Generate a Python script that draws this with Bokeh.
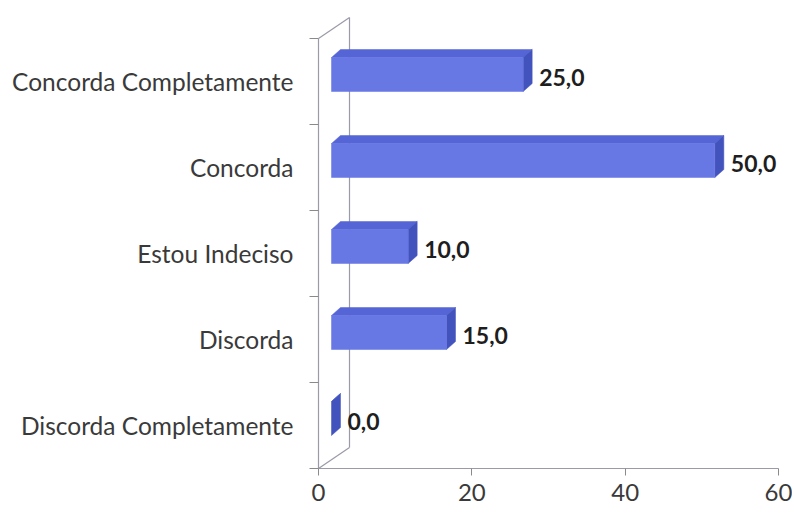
from bokeh.plotting import figure
from bokeh.models import Range1d, FixedTicker, ColumnDataSource
from bokeh.core.properties import value
from bokeh.embed import file_html
from bokeh.resources import INLINE

categories = ["Discorda Completamente", "Discorda", "Estou Indeciso", "Concorda", "Concorda Completamente"]
values = [0.0, 15.0, 10.0, 50.0, 25.0]
value_labels = ["0,0", "15,0", "10,0", "50,0", "25,0"]
x_ticks = [0, 20, 40, 60]

FONT = "Lato"
PXX = 460 / 60.0   # pixels per x unit
PXY = 86.0         # pixels per category

# geometry (style constants, in data units)
x0 = 13 / PXX          # front-left offset of bars from axis
ddx = 9 / PXX          # bar depth (x)
ddy = 8 / PXY          # bar depth (y)
top_off = 24 / PXY
bot_off = 10 / PXY
wall_dx = 31 / PXX
wall_dy = 21 / PXY

W, H = 792, 520
p = figure(width=W, height=H, output_backend="svg", toolbar_location=None,
           x_range=Range1d(-4 / PXX, 60 + 4 / PXX),
           y_range=Range1d(-3 / PXY, 5 + 26 / PXY),
           min_border_left=314, min_border_right=W - 782, min_border_top=12,
           min_border_bottom=H - 471)
p.outline_line_color = None
p.grid.visible = False
p.background_fill_color = "white"

# axes
p.xaxis.ticker = FixedTicker(ticks=x_ticks)
p.xaxis.axis_line_color = None
p.xaxis.major_tick_in = 3
p.xaxis.major_tick_out = 4
p.xaxis.major_tick_line_color = "#8a8a8a"
p.xaxis.minor_tick_line_color = None
p.xaxis.major_label_text_font = FONT
p.xaxis.major_label_text_font_size = "24px"
p.xaxis.major_label_text_color = "#3a3a3a"
p.xaxis.major_label_standoff = 8

centers = [i + 0.5 for i in range(len(categories))]
p.yaxis.ticker = FixedTicker(ticks=centers, minor_ticks=list(range(len(categories) + 1)))
p.yaxis.major_label_overrides = {c: lab for c, lab in zip(centers, categories)}
p.yaxis.axis_line_color = None
p.yaxis.major_tick_line_color = None
p.yaxis.major_tick_in = 0
p.yaxis.major_tick_out = 0
p.yaxis.minor_tick_line_color = "#8a8a8a"
p.yaxis.minor_tick_in = 4
p.yaxis.minor_tick_out = 5
p.yaxis.major_label_text_font = FONT
p.yaxis.major_label_text_font_size = "24.5px"
p.yaxis.major_label_text_color = "#3a3a3a"
p.yaxis.major_label_standoff = 16

# frame lines (front axes, back wall and floor edges)
n = len(categories)
line_col = "#9a9aa8"
p.segment(x0=[0, 0, wall_dx, 0, 0], y0=[0, 0, wall_dy, 0, n],
          x1=[60, 0, wall_dx, wall_dx, wall_dx], y1=[0, n, n + wall_dy, wall_dy, n + wall_dy],
          line_color=line_col, line_width=1.2)

# 3D bars
fx, fy, tx, ty, sx, sy = [], [], [], [], [], []
for v, c in zip(values, centers):
    xl, xr = x0, x0 + v
    yt, yb = c + top_off, c - bot_off
    fx.append([xl, xr, xr, xl]); fy.append([yb, yb, yt, yt])
    tx.append([xl, xr, xr + ddx, xl + ddx]); ty.append([yt, yt, yt + ddy, yt + ddy])
    sx.append([xr, xr + ddx, xr + ddx, xr]); sy.append([yb, yb + ddy, yt + ddy, yt])

p.patches(tx, ty, fill_color="#5565d6", line_color="#5565d6", line_width=0.5)
p.patches(sx, sy, fill_color="#4353bd", line_color="#4353bd", line_width=0.5)
front = [(fxx, fyy) for fxx, fyy, v in zip(fx, fy, values) if v > 0]
p.patches([f[0] for f in front], [f[1] for f in front],
          fill_color="#6777e4", line_color="#6777e4", line_width=0.5)

# value labels
src = ColumnDataSource(dict(x=[x0 + v + ddx for v in values],
                            y=[c + 4 / PXY for c in centers],
                            t=value_labels))
p.text(x="x", y="y", text="t", source=src, x_offset=7,
       text_font=value(FONT), text_font_size="23px", text_font_style="bold",
       text_color="#1e1e1e", text_baseline="middle", text_align="left")

open("out.html", "w").write(file_html(p, INLINE))
